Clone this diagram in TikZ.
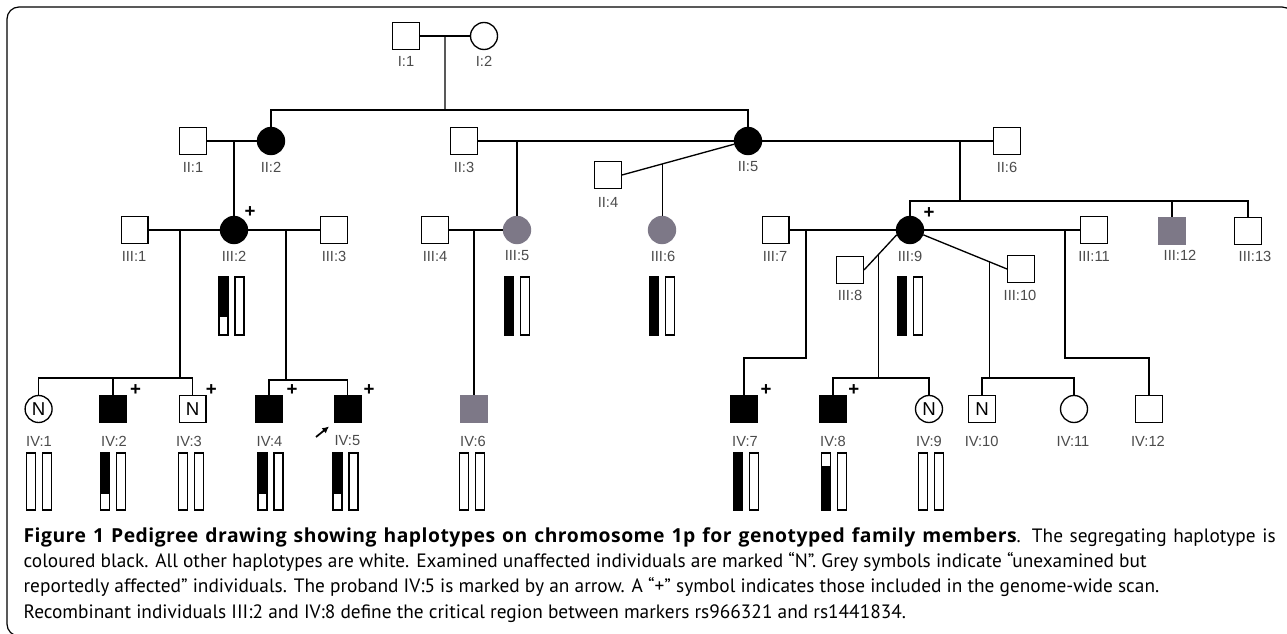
\documentclass[tikz,border=0pt]{standalone}
\usepackage{fontspec}
\setmainfont{Liberation Sans}
\newfontfamily\capfont{PT Sans}
\newfontfamily\capboldfont[LetterSpace=2.5]{Open Sans}
\usetikzlibrary{calc,arrows.meta}
\definecolor{affgrey}{RGB}{125,120,135}
\definecolor{lblgrey}{RGB}{75,75,75}
\newcommand{\hapW}[3]{% centre x, top y, bottom y : two white bars
  \draw[hapbar] (#1-12.5,#2) rectangle (#1-3.5,#3);
  \draw[hapbar] (#1+3.5,#2) rectangle (#1+12.5,#3);}
\newcommand{\hapB}[5]{% centre x, top y, bottom y, black from #4 to #5 on left bar
  \fill[black] (#1-12.5,#4) rectangle (#1-3.5,#5);
  \draw[hapbar] (#1-12.5,#2) rectangle (#1-3.5,#3);
  \draw[hapbar] (#1+3.5,#2) rectangle (#1+12.5,#3);}
\begin{document}
\begin{tikzpicture}[x=0.75pt,y=-0.75pt,line width=1pt,
  sq/.style={draw,rectangle,minimum width=20pt,minimum height=20pt,inner sep=0pt},
  ci/.style={draw,circle,minimum size=20.25pt,inner sep=0pt},
  aff/.style={fill=black},
  gry/.style={fill=affgrey,draw=affgrey},
  lbl/.style={font=\fontsize{11}{12}\selectfont,text=lblgrey,inner sep=0pt},
  nn/.style={font=\fontsize{14}{14}\selectfont},
  plus/.style={font=\bfseries\fontsize{14}{14}\selectfont,inner sep=0pt},
  hapbar/.style={draw,line width=0.8pt},
  captext/.style={anchor=base west,inner sep=0pt,font=\capfont\fontsize{14.5}{17}\selectfont}]
\useasboundingbox (0,0) rectangle (1287,634);
\fill[white] (0,0) rectangle (1287,634);
\draw[line width=0.9pt,rounded corners=9pt] (7,7) rectangle (1294,636);

% ---------- generation I
\node[sq] (I1) at (406,36) {};
\node[ci] (I2) at (484,36) {};
\node[lbl] (tI1) at (406,61) {I:1};
\node[lbl] (tI2) at (484,61) {I:2};

% ---------- generation II
\node[sq] (II1) at (193,141) {};
\node[ci,aff] (II2) at (271,141) {};
\node[sq] (II3) at (464,141) {};
\node[sq] (II4) at (608,175) {};
\node[ci,aff] (II5) at (748,141) {};
\node[sq] (II6) at (1007,141) {};
\node[lbl] (tII1) at (193,167) {II:1};
\node[lbl] (tII2) at (271,167) {II:2};
\node[lbl] (tII3) at (464,167) {II:3};
\node[lbl] (tII4) at (608,202) {II:4};
\node[lbl] (tII5) at (748,167) {II:5};
\node[lbl] (tII6) at (1007,167) {II:6};

% ---------- generation III
\node[sq] (III1) at (134.5,230) {};
\node[ci,aff] (III2) at (234,230) {};
\node[sq] (III3) at (334,230) {};
\node[sq] (III4) at (435,230) {};
\node[ci,gry] (III5) at (517,230) {};
\node[ci,gry] (III6) at (662,230) {};
\node[sq] (III7) at (775.5,230) {};
\node[sq] (III8) at (850,270) {};
\node[ci,aff] (III9) at (910,230) {};
\node[sq] (III10) at (1021,269) {};
\node[sq] (III11) at (1094,230) {};
\node[sq,gry] (III12) at (1172,231) {};
\node[sq] (III13) at (1248,231) {};
\node[lbl] (tIII1) at (134,256) {III:1};
\node[lbl] (tIII2) at (234,256) {III:2};
\node[lbl] (tIII3) at (334,256) {III:3};
\node[lbl] (tIII4) at (435,256) {III:4};
\node[lbl] (tIII5) at (517,256) {III:5};
\node[lbl] (tIII6) at (663,256) {III:6};
\node[lbl] (tIII7) at (775,256) {III:7};
\node[lbl] (tIII8) at (850,295) {III:8};
\node[lbl] (tIII9) at (910,256) {III:9};
\node[lbl] (tIII10) at (1020,295) {III:10};
\node[lbl] (tIII11) at (1094,256) {III:11};
\node[lbl] (tIII12) at (1180,255) {III:12};
\node[lbl] (tIII13) at (1255,256) {III:13};
\node[plus] (pIII2) at (250,212) {+};
\node[plus] (pIII9) at (929,213) {+};

% ---------- generation IV
\node[ci,nn] (IV1) at (38.6,409) {N};
\node[sq,aff] (IV2) at (113,409) {};
\node[sq,nn] (IV3) at (192.5,409) {N};
\node[sq,aff] (IV4) at (269,409) {};
\node[sq,aff] (IV5) at (347.6,409) {};
\node[sq,gry] (IV6) at (474,409) {};
\node[sq,aff] (IV7) at (744,409) {};
\node[sq,aff] (IV8) at (833,409) {};
\node[ci,nn] (IV9) at (929,409) {N};
\node[sq,nn] (IV10) at (982,409) {N};
\node[ci] (IV11) at (1074,409) {};
\node[sq] (IV12) at (1149,409) {};
\node[lbl] (tIV1) at (39,441) {IV:1};
\node[lbl] (tIV2) at (114,441) {IV:2};
\node[lbl] (tIV3) at (189,441) {IV:3};
\node[lbl] (tIV4) at (269.5,441) {IV:4};
\node[lbl] (tIV5) at (347.4,441) {IV:5};
\node[lbl] (tIV6) at (473,441) {IV:6};
\node[lbl] (tIV7) at (745,441) {IV:7};
\node[lbl] (tIV8) at (833,441) {IV:8};
\node[lbl] (tIV9) at (929,441) {IV:9};
\node[lbl] (tIV10) at (981.6,441) {IV:10};
\node[lbl] (tIV11) at (1073,441) {IV:11};
\node[lbl] (tIV12) at (1148,441) {IV:12};
\node[plus] (pIV2) at (135.6,390) {+};
\node[plus] (pIV3) at (211.4,390) {+};
\node[plus] (pIV4) at (292,390) {+};
\node[plus] (pIV5) at (369,390) {+};
\node[plus] (pIV7) at (766,390) {+};
\node[plus] (pIV8) at (853.7,390) {+};

% proband arrow
\coordinate (arrS) at (316,437);
\coordinate (arrE) at (329,426.5);
\draw[line width=1.3pt,-{Latex[length=5pt,width=5pt]}] (arrS) -- (arrE);

% ---------- connectors
% I
\draw (I1.east) -- (I2.west);
\coordinate (m1) at ($(I1.east)!0.5!(I2.west)$);
\coordinate (s1) at (445,110);
\draw (m1) -- (s1);
\draw (II2.north) -- (II2.north |- s1) -- (II5.north |- s1) -- (II5.north);
% II
\draw (II1.east) -- (II2.west);
\coordinate (m2) at (III2.north |- II1.east);
\draw (m2) -- (III2.north);
\draw (II3.east) -- (II5.west);
\coordinate (m3) at (III5.north |- II3.east);
\draw (m3) -- (III5.north);
\draw (II4.east) -- (II5.193);
\coordinate (m4) at ($(II4.east)!0.36!(II5.193)$);
\draw (m4) -- (m4 |- III6.north);
\draw (II5.east) -- (II6.west);
\coordinate (m5) at (960,141);
\coordinate (s5) at (960,201);
\draw (m5) -- (s5);
\draw (III9.north) -- (III9.north |- s5) -- (III13.north |- s5) -- (III13.north);
\draw (III12.north |- s5) -- (III12.north);
% III
\draw (III1.east) -- (III2.west);
\coordinate (m6) at (180,230);
\coordinate (s6) at (180,378);
\draw (m6) -- (s6);
\draw (IV1.north) -- (IV1.north |- s6) -- (IV3.north |- s6) -- (IV3.north);
\draw (IV2.north |- s6) -- (IV2.north);
\draw (III2.east) -- (III3.west);
\coordinate (m7) at (286,230);
\coordinate (s7) at (286,380);
\draw (m7) -- (s7);
\draw (IV4.north) -- (IV4.north |- s7) -- (IV5.north |- s7) -- (IV5.north);
\draw (III4.east) -- (III5.west);
\coordinate (m8) at (IV6.north |- III4.east);
\draw (m8) -- (IV6.north);
\draw (III7.east) -- (III9.west);
\coordinate (m9) at (806,230);
\coordinate (k9) at (806,358);
\draw (m9) -- (k9) -- (k9 -| IV7.north) -- (IV7.north);
\draw (III9.east) -- (III11.west);
\coordinate (m10) at (1065,230);
\coordinate (k10) at (1065,358);
\draw (m10) -- (k10) -- (k10 -| IV12.north) -- (IV12.north);
\draw (III8.east) -- (III9.200);
\coordinate (m11) at ($(III8.east)!0.444!(III9.200)$);
\coordinate (s11) at (m11 |- 0,378);
\draw (m11) -- (s11);
\draw (IV8.north) -- (IV8.north |- s11) -- (IV9.north |- s11) -- (IV9.north);
\draw (III9.340) -- (III10.west);
\coordinate (m12) at ($(III9.340)!0.794!(III10.west)$);
\coordinate (s12) at (m12 |- 0,378);
\draw (m12) -- (s12);
\draw (IV10.north) -- (IV10.north |- s12) -- (IV11.north |- s12) -- (IV11.north);

% ---------- haplotype bars
\hapB{231.5}{277}{335}{277}{317}
\hapB{517}{277}{335}{277}{335}
\hapB{662}{277}{335}{277}{335}
\hapB{910}{277}{335}{277}{335}
\hapW{38.6}{453}{510}
\hapB{113}{453}{510}{453}{494}
\hapW{191}{453}{510}
\hapB{270.5}{453}{510}{453}{494}
\hapB{345.5}{453}{510}{453}{494}
\hapW{471.6}{453}{510}
\hapB{746}{453}{510}{453}{510}
\hapB{834}{453}{510}{466}{510}
\hapW{931}{453}{510}

% ---------- caption
\node[captext] (cap1) at (23,542) {\makebox[939pt][s]{{\capboldfont\bfseries Figure 1 Pedigree drawing showing haplotypes on chromosome 1p for genotyped family members}. The segregating haplotype is}};
\node[captext] (cap2) at (23,567.3) {coloured black. All other haplotypes are white. Examined unaffected individuals are marked “N”. Grey symbols indicate “unexamined but};
\node[captext] (cap3) at (23,592.6) {reportedly affected” individuals. The proband IV:5 is marked by an arrow. A “+” symbol indicates those included in the genome-wide scan.};
\node[captext] (cap4) at (23,618) {Recombinant individuals III:2 and IV:8 define the critical region between markers rs966321 and rs1441834.};
\end{tikzpicture}
\end{document}
